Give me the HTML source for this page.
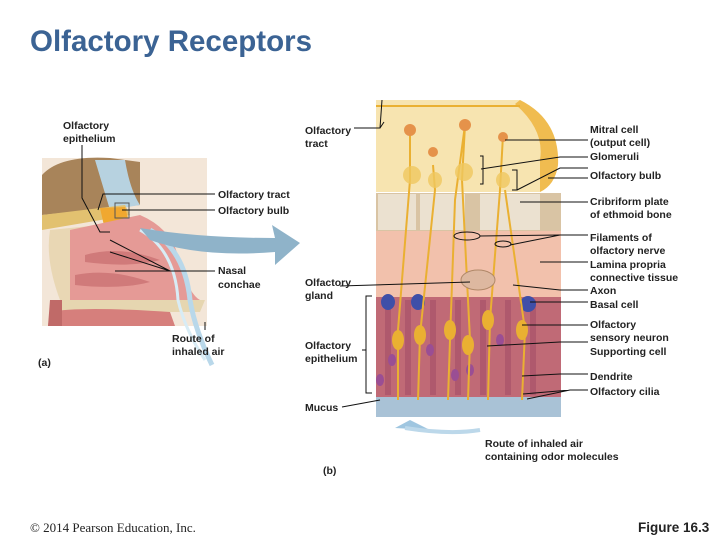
<!DOCTYPE html>
<html><head><meta charset="utf-8"><style>
body{margin:0;background:#fff;}
svg{display:block;}
text{font-family:"Liberation Sans",sans-serif;font-size:10.5px;font-weight:bold;fill:#222;}
.t{font-size:29.5px;fill:#3b6394;}
</style></head><body>
<svg width="720" height="540" viewBox="0 0 720 540">
<text class="t" x="30" y="51">Olfactory Receptors</text>

<!-- (a) head -->
<rect x="42" y="158" width="165" height="168" fill="#f3e6d8"/>
<path d="M42 175 Q60 155 110 158 L140 162 L140 205 L42 215Z" fill="#a8845a"/>
<path d="M95 160 L125 160 Q130 190 140 205 L110 210Z" fill="#b7d2e0"/>
<path d="M42 215 L125 205 L130 215 L42 230Z" fill="#e2c170"/>
<path d="M100 208 L125 207 L130 225 L105 230Z" fill="#f0a830"/>
<path d="M50 230 Q45 260 60 300 L90 305 L120 240 L100 225Z" fill="#e9d7b4"/>
<path d="M70 230 L140 215 Q175 230 180 265 Q190 295 200 300 L70 300Z" fill="#e59a96"/>
<path d="M85 255 Q120 245 160 260 Q130 268 85 262Z" fill="#d07a7a"/>
<path d="M75 275 Q110 268 150 282 Q120 290 75 285Z" fill="#d07a7a"/>
<path d="M55 300 L205 300 L200 312 L55 312Z" fill="#e6d6b0"/>
<path d="M50 312 Q80 306 170 312 L175 326 L48 326Z" fill="#d67f7c"/>
<path d="M50 300 L62 300 L62 326 L48 326Z" fill="#c06a68"/>
<rect x="115" y="203" width="14" height="15" fill="none" stroke="#555" stroke-width="1"/>
<path d="M150 230 Q185 250 190 300 Q195 330 212 365" fill="none" stroke="#b9d8ea" stroke-width="5"/>
<path d="M140 230 Q175 250 178 300 Q185 330 205 360" fill="none" stroke="#d8ecf5" stroke-width="3"/>
<path d="M140 228 Q200 238 275 238 L272 225 L300 243 L275 265 L275 252 Q200 258 150 240Z" fill="#8fb3c9"/>
<g stroke="#111" stroke-width="1" fill="none">
<path d="M82 145 L82 198 L100 232 L110 232"/>
<path d="M215 194 L103 194 L98 210"/>
<path d="M215 210 L122 210"/>
<path d="M170 271 L215 271"/>
<path d="M170 271 L110 240 M170 271 L110 252 M170 271 L115 271"/>
<path d="M205 322 L205 330"/>
</g>
<text x="63" y="129">Olfactory</text><text x="63" y="142">epithelium</text>
<text x="218" y="198">Olfactory tract</text>
<text x="218" y="214">Olfactory bulb</text>
<text x="218" y="274">Nasal</text><text x="218" y="288">conchae</text>
<text x="172" y="342">Route of</text><text x="172" y="355">inhaled air</text>
<text x="38" y="366">(a)</text>

<!-- (b) -->
<path d="M376 100 L520 100 Q560 120 558 165 Q555 185 540 192 L376 192Z" fill="#f7e4b0"/>
<path d="M520 100 Q560 120 558 165 Q555 185 540 192 L540 160 Q545 130 515 104Z" fill="#f0bc50"/>
<rect x="376" y="193" width="185" height="38" fill="#d9c4a4"/>
<rect x="378" y="194" width="38" height="36" fill="#ebe1d0"/>
<rect x="420" y="194" width="45" height="36" fill="#ebe1d0"/>
<rect x="480" y="194" width="60" height="36" fill="#ebe1d0"/>
<rect x="376" y="231" width="185" height="66" fill="#f2c1ac"/>
<rect x="376" y="297" width="185" height="100" fill="#c06a76"/>
<g fill="#a8526a" opacity=".7">
<rect x="385" y="300" width="6" height="95"/><rect x="405" y="300" width="6" height="95"/><rect x="430" y="300" width="6" height="95"/><rect x="455" y="300" width="6" height="95"/><rect x="480" y="300" width="6" height="95"/><rect x="505" y="300" width="6" height="95"/><rect x="530" y="300" width="6" height="95"/></g>
<g fill="#3f4fa8"><ellipse cx="388" cy="302" rx="7" ry="8"/><ellipse cx="418" cy="302" rx="7" ry="8"/><ellipse cx="528" cy="304" rx="8" ry="8"/></g>
<g fill="#9a4e94"><ellipse cx="392" cy="360" rx="4" ry="6"/><ellipse cx="430" cy="350" rx="4" ry="6"/><ellipse cx="455" cy="375" rx="4" ry="6"/><ellipse cx="500" cy="340" rx="4" ry="6"/><ellipse cx="380" cy="380" rx="4" ry="6"/><ellipse cx="470" cy="370" rx="4" ry="6"/></g>
<rect x="376" y="397" width="185" height="20" fill="#a9c2d6"/>
<g stroke="#eab032" stroke-width="2" fill="none">
<path d="M410 125 L410 180 L398 330 L398 400"/><path d="M433 165 L435 190 L420 335 L418 400"/>
<path d="M465 125 L462 180 L470 340 L468 400"/><path d="M465 125 L455 200 L450 340 L448 400"/>
<path d="M503 135 L500 190 L490 320 L488 400"/><path d="M505 190 L525 330 L522 400"/>
<path d="M376 106 L520 106"/>
</g>
<g fill="#eab032"><ellipse cx="398" cy="340" rx="6" ry="10"/><ellipse cx="420" cy="335" rx="6" ry="10"/><ellipse cx="450" cy="330" rx="6" ry="10"/><ellipse cx="468" cy="345" rx="6" ry="10"/><ellipse cx="488" cy="320" rx="6" ry="10"/><ellipse cx="522" cy="330" rx="6" ry="10"/></g>
<g fill="#e5924a"><circle cx="410" cy="130" r="6"/><circle cx="433" cy="152" r="5"/><circle cx="465" cy="125" r="6"/><circle cx="503" cy="137" r="5"/></g>
<g fill="#f0c860" opacity=".8"><ellipse cx="412" cy="175" rx="9" ry="9"/><ellipse cx="435" cy="180" rx="7" ry="8"/><ellipse cx="464" cy="172" rx="9" ry="9"/><ellipse cx="503" cy="180" rx="7" ry="8"/></g>
<ellipse cx="478" cy="280" rx="17" ry="10" fill="#ddb8a0" stroke="#b08868"/>
<path d="M430 430 L395 428 L410 420 Z" fill="#9fc6e0"/>
<path d="M405 428 Q450 435 480 430" stroke="#bcd8ea" stroke-width="4" fill="none"/>
<g stroke="#111" stroke-width="1" fill="none">
<path d="M354 128 L380 128 L382 100 M380 128 L384 122"/>
<path d="M588 140 L505 140"/>
<path d="M588 157 L560 157 L481 169 M480 156 L483 156 L483 184 L480 184"/>
<path d="M588 168 L560 168 L517 190 M512 170 L517 170 L517 190 L512 190"/>
<path d="M588 178 L548 178"/>
<path d="M588 202 L520 202"/>
<path d="M588 235 L560 235 L480 236 M560 235 L510 245"/>
<ellipse cx="467" cy="236" rx="13" ry="4"/><ellipse cx="503" cy="244" rx="8" ry="3"/>
<path d="M588 262 L540 262"/>
<path d="M588 290 L560 290 L513 285"/>
<path d="M588 302 L530 302"/>
<path d="M588 325 L522 325"/>
<path d="M588 342 L560 342 L487 346"/>
<path d="M588 374 L560 374 L522 376"/>
<path d="M588 390 L570 390 L527 399 M570 390 L523 394"/>
<path d="M340 286 L470 282"/>
<path d="M372 296 L366 296 L366 393 L372 393 M362 350 L366 350"/>
<path d="M342 407 L380 400"/>
</g>
<text x="305" y="134">Olfactory</text><text x="305" y="147">tract</text>
<text x="590" y="133">Mitral cell</text><text x="590" y="146">(output cell)</text><text x="590" y="160">Glomeruli</text>
<text x="590" y="179">Olfactory bulb</text>
<text x="590" y="205">Cribriform plate</text><text x="590" y="218">of ethmoid bone</text>
<text x="590" y="241">Filaments of</text><text x="590" y="254">olfactory nerve</text><text x="590" y="268">Lamina propria</text><text x="590" y="281">connective tissue</text><text x="590" y="294">Axon</text><text x="590" y="308">Basal cell</text>
<text x="590" y="328">Olfactory</text><text x="590" y="341">sensory neuron</text><text x="590" y="355">Supporting cell</text>
<text x="590" y="380">Dendrite</text><text x="590" y="395">Olfactory cilia</text>
<text x="305" y="286">Olfactory</text><text x="305" y="299">gland</text>
<text x="305" y="349">Olfactory</text><text x="305" y="362">epithelium</text>
<text x="305" y="411">Mucus</text>
<text x="485" y="447">Route of inhaled air</text><text x="485" y="460">containing odor molecules</text>
<text x="323" y="474">(b)</text>
<text x="30" y="532" style="font-family:'Liberation Serif',serif;font-weight:normal;font-size:13px">© 2014 Pearson Education, Inc.</text>
<text x="638" y="532" style="font-size:13.5px">Figure 16.3</text>
</svg>
</body></html>
